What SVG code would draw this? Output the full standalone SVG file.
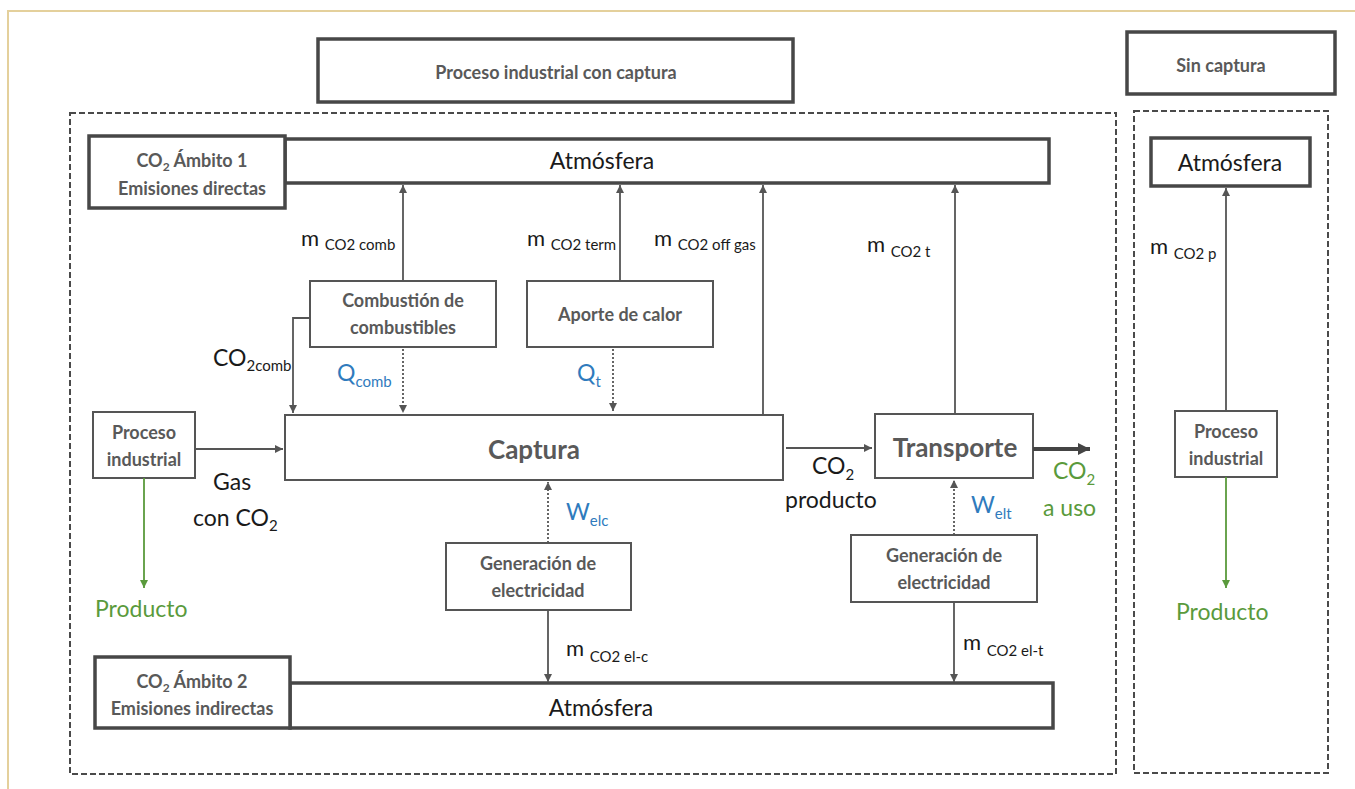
<svg xmlns="http://www.w3.org/2000/svg" width="1355" height="789" viewBox="0 0 1355 789">
<style>
.bg{fill:#fff}
.frame{fill:none;stroke:#e4d09c;stroke-width:2}
.thick{fill:#fff;stroke:#474747;stroke-width:3.5}
.box{fill:#fff;stroke:#555;stroke-width:2}
.dash{fill:none;stroke:#4a4a4a;stroke-width:2;stroke-dasharray:6 3}
.ln{fill:none;stroke:#555;stroke-width:1.8}
.dot{fill:none;stroke:#555;stroke-width:1.8;stroke-dasharray:2 2}
.grn{fill:none;stroke:#5a9a3c;stroke-width:1.8}
.big{fill:none;stroke:#444;stroke-width:4}
text{font-family:Lato,"Open Sans","Liberation Sans",sans-serif}
.b{font-weight:bold;fill:#595959;font-size:18px;text-anchor:middle}
.bl{font-weight:bold;fill:#595959;font-size:26px;text-anchor:middle}
.t{fill:#1a1a1a;font-size:23px}
.m{fill:#1a1a1a;font-size:22px}
.s{font-size:15px}
.blue{fill:#2f7bbd}
.green{fill:#5a9a3c}
</style>
<defs>
<marker id="ah" markerUnits="userSpaceOnUse" markerWidth="10" markerHeight="10" refX="8" refY="4" orient="auto">
<path d="M0,0 L8,4 L0,8 Z" fill="#555"/>
</marker>
<marker id="ahg" markerUnits="userSpaceOnUse" markerWidth="10" markerHeight="10" refX="8" refY="4" orient="auto">
<path d="M0,0 L8,4 L0,8 Z" fill="#5a9a3c"/>
</marker>
<marker id="ahb" markerUnits="userSpaceOnUse" markerWidth="14" markerHeight="14" refX="12" refY="6" orient="auto">
<path d="M0,0 L12,6 L0,12 Z" fill="#444"/>
</marker>
</defs>
<rect class="bg" x="0" y="0" width="1355" height="789"/>
<path class="frame" d="M8,789 L8,11 L1355,11"/>

<g id="titulo-captura">
<rect class="thick" x="318" y="39" width="475" height="63"/>
<text class="b" x="556" y="79">Proceso industrial con captura</text>
</g>
<g id="titulo-sin-captura">
<rect class="thick" x="1127" y="32" width="208" height="62"/>
<text class="b" x="1221" y="72">Sin captura</text>
</g>

<g id="frame-captura"><rect class="dash" x="70" y="113" width="1046" height="661"/></g>
<g id="frame-sin-captura"><rect class="dash" x="1134" y="111" width="194" height="662"/></g>

<g id="atmosfera-1">
<rect class="thick" x="285" y="139" width="764" height="44"/>
<rect class="thick" x="89" y="136" width="196" height="72"/>
<text class="b" x="192" y="167">CO<tspan font-size="12" dy="4">2</tspan><tspan dy="-4"> Ámbito 1</tspan></text>
<text class="b" x="192" y="195">Emisiones directas</text>
<text class="t" x="602" y="169" text-anchor="middle" font-size="24">Atmósfera</text>
</g>

<g id="atmosfera-2">
<rect class="thick" x="290" y="683" width="763" height="45"/>
<rect class="thick" x="95" y="657" width="195" height="71"/>
<text class="b" x="192" y="688">CO<tspan font-size="12" dy="4">2</tspan><tspan dy="-4"> Ámbito 2</tspan></text>
<text class="b" x="192" y="715">Emisiones indirectas</text>
<text class="t" x="601" y="716" text-anchor="middle" font-size="24">Atmósfera</text>
</g>

<g id="combustion">
<rect class="box" x="310" y="281" width="186" height="66"/>
<text class="b" x="403" y="307">Combustión de</text>
<text class="b" x="403" y="334">combustibles</text>
</g>
<g id="aporte-calor">
<rect class="box" x="527" y="281" width="186" height="66"/>
<text class="b" x="620" y="321">Aporte de calor</text>
</g>
<g id="captura">
<rect class="box" x="285" y="415" width="498" height="65"/>
<text class="bl" x="534" y="459">Captura</text>
</g>
<g id="proceso-industrial">
<rect class="box" x="93" y="412" width="102" height="66"/>
<text class="b" x="144" y="439">Proceso</text>
<text class="b" x="144" y="466">industrial</text>
</g>
<g id="transporte">
<rect class="box" x="875" y="414" width="158" height="64"/>
<text class="bl" x="955" y="457">Transporte</text>
</g>
<g id="generacion-c">
<rect class="box" x="446" y="543" width="185" height="67"/>
<text class="b" x="538" y="570">Generación de</text>
<text class="b" x="538" y="597">electricidad</text>
</g>
<g id="generacion-t">
<rect class="box" x="851" y="535" width="186" height="67"/>
<text class="b" x="944" y="562">Generación de</text>
<text class="b" x="944" y="589">electricidad</text>
</g>
<g id="atmosfera-sc">
<rect class="thick" x="1151" y="138" width="159" height="48"/>
<text class="t" x="1230" y="171" text-anchor="middle" font-size="24">Atmósfera</text>
</g>
<g id="proceso-sc">
<rect class="box" x="1175" y="411" width="102" height="66"/>
<text class="b" x="1226" y="438">Proceso</text>
<text class="b" x="1226" y="465">industrial</text>
</g>

<g id="connectors">
<line class="ln" x1="403" y1="281" x2="403" y2="185" marker-end="url(#ah)"/>
<line class="ln" x1="620" y1="281" x2="620" y2="185" marker-end="url(#ah)"/>
<line class="ln" x1="763" y1="415" x2="763" y2="185" marker-end="url(#ah)"/>
<line class="ln" x1="955" y1="414" x2="955" y2="185" marker-end="url(#ah)"/>
<line class="dot" x1="403" y1="349" x2="403" y2="413" marker-end="url(#ah)"/>
<line class="dot" x1="613" y1="349" x2="613" y2="411" marker-end="url(#ah)"/>
<path class="ln" d="M310,318 L293,318 L293,413" marker-end="url(#ah)"/>
<line class="ln" x1="195" y1="449" x2="283" y2="449" marker-end="url(#ah)"/>
<line class="grn" x1="144" y1="478" x2="144" y2="588" marker-end="url(#ahg)"/>
<line class="ln" x1="786" y1="448" x2="872" y2="448" marker-end="url(#ah)"/>
<line class="big" x1="1033" y1="449" x2="1090" y2="449" marker-end="url(#ahb)"/>
<line class="dot" x1="548" y1="543" x2="548" y2="482" marker-end="url(#ah)"/>
<line class="dot" x1="954" y1="535" x2="954" y2="480" marker-end="url(#ah)"/>
<line class="ln" x1="548" y1="610" x2="548" y2="682" marker-end="url(#ah)"/>
<line class="ln" x1="954" y1="602" x2="954" y2="682" marker-end="url(#ah)"/>
<line class="ln" x1="1226" y1="411" x2="1226" y2="188" marker-end="url(#ah)"/>
<line class="grn" x1="1226" y1="477" x2="1226" y2="588" marker-end="url(#ahg)"/>
</g>

<g id="labels">
<text class="m" x="301" y="246">m <tspan class="s" dy="4">CO2 comb</tspan></text>
<text class="m" x="527" y="246">m <tspan class="s" dy="4">CO2 term</tspan></text>
<text class="m" x="654" y="246">m <tspan class="s" dy="4">CO2 off gas</tspan></text>
<text class="m" x="867" y="252">m <tspan class="s" dy="5">CO2 t</tspan></text>
<text class="m" x="1150" y="254">m <tspan class="s" dy="5">CO2 p</tspan></text>
<text class="m" x="566" y="656">m <tspan class="s" dy="6">CO2 el-c</tspan></text>
<text class="m" x="963" y="650">m <tspan class="s" dy="6">CO2 el-t</tspan></text>
<text class="t" x="213" y="366">CO<tspan class="s" font-size="16" dy="5">2comb</tspan></text>
<text class="t blue" x="337" y="381">Q<tspan class="s" dy="6">comb</tspan></text>
<text class="t blue" x="577" y="381">Q<tspan class="s" dy="6">t</tspan></text>
<text class="t" x="213" y="490">Gas</text>
<text class="t" x="193" y="526">con CO<tspan class="s" font-size="16" dy="5">2</tspan></text>
<text class="t green" x="95" y="617" font-size="25">Producto</text>
<text class="t green" x="1176" y="620" font-size="25">Producto</text>
<text class="t" x="812" y="474">CO<tspan class="s" font-size="16" dy="6">2</tspan></text>
<text class="t" x="785" y="508">producto</text>
<text class="t green" x="1053" y="479">CO<tspan class="s" font-size="16" dy="6">2</tspan></text>
<text class="t green" x="1043" y="516">a uso</text>
<text class="t blue" x="566" y="520">W<tspan class="s" dy="6">elc</tspan></text>
<text class="t blue" x="971" y="513">W<tspan class="s" dy="6">elt</tspan></text>
</g>
</svg>
